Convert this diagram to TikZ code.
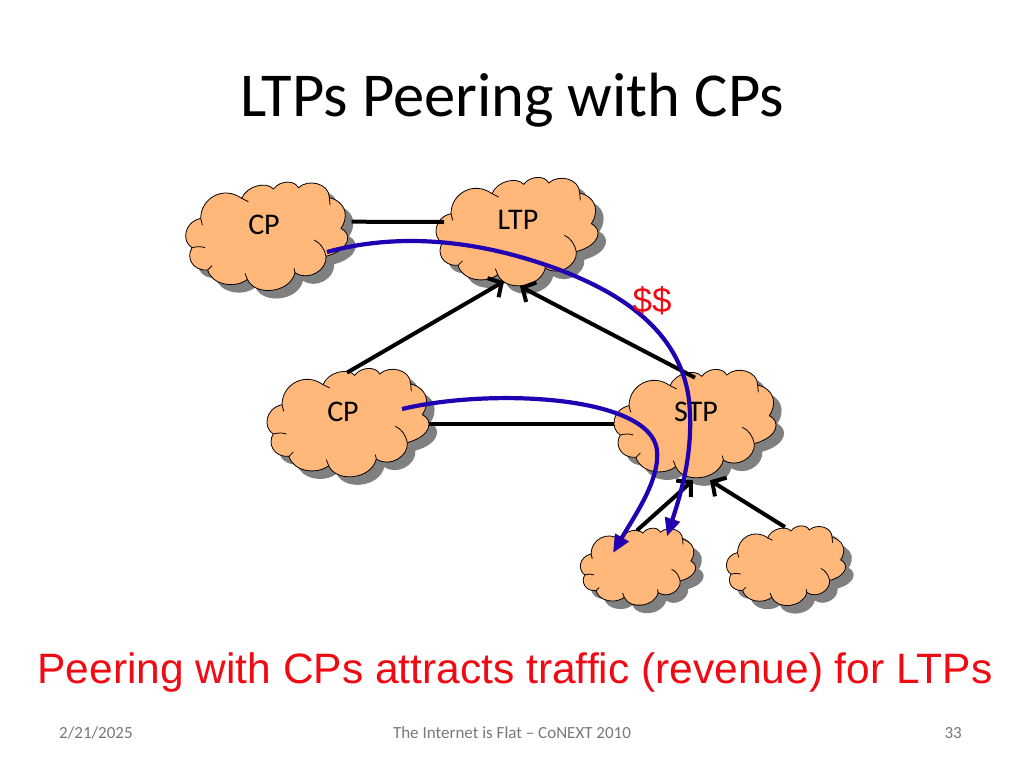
\documentclass[tikz,border=0pt]{standalone}
\usepackage{fontspec}
\setmainfont{Carlito}
\newfontfamily\arialf{Liberation Sans}
\usetikzlibrary{arrows.meta,calc}
\definecolor{cloudfill}{RGB}{255,183,122}
\definecolor{cloudshadow}{RGB}{128,128,128}
\definecolor{pathblue}{RGB}{32,0,176}
\definecolor{redtext}{RGB}{240,10,20}
\definecolor{foot}{RGB}{120,120,120}
\newcommand{\cloudoutline}{(92,160) .. controls (92,100) and (160,60) .. (215,100)
 .. controls (230,62) and (290,48) .. (310,72)
 .. controls (330,45) and (375,45) .. (385,68)
 .. controls (415,40) and (478,55) .. (478,98)
 .. controls (510,105) and (530,130) .. (525,160)
 .. controls (523,172) and (519,182) .. (513,190)
 .. controls (545,205) and (545,252) .. (468,274)
 .. controls (472,315) and (415,350) .. (375,323)
 .. controls (360,385) and (255,395) .. (232,343)
 .. controls (195,372) and (125,360) .. (113,315)
 .. controls (65,318) and (48,275) .. (66,248)
 .. controls (35,230) and (40,172) .. (92,160) -- cycle}
\newcommand{\cloudshape}[4]{%
 \begin{scope}[shift={(#2+8,#3+8)},scale=#4,shift={(-290,-215)}]
  \fill[cloudshadow] \cloudoutline;
 \end{scope}
 \begin{scope}[shift={(#2,#3)},scale=#4,shift={(-290,-215)}]
  \filldraw[cloudedge] \cloudoutline;
  \draw[cloudedge] (66,248) .. controls (80,244) and (95,244) .. (105,248);
  \draw[cloudedge] (92,160) -- (97,180);
  \draw[cloudedge] (432,225) .. controls (450,232) and (464,252) .. (468,274);
  \draw[cloudedge] (375,323) -- (372,310);
  \draw[cloudedge] (113,315) -- (126,302);
  \draw[cloudedge] (215,100) -- (235,110);
  \draw[cloudedge] (478,98) -- (480,120);
  \draw[cloudedge] (232,343) -- (225,325);
 \end{scope}
 \node[cloudbox,minimum width={486pt*#4},minimum height={326pt*#4}] (#1) at (#2,#3) {};}
\tikzset{
 cloudedge/.style={draw=black,fill=cloudfill,line width=0.8pt},
 cloudbox/.style={inner sep=0pt,outer sep=0pt},
 cloudlabel/.style={font=\fontsize{30}{30}\selectfont,text=black,inner sep=0pt},
 linkline/.style={draw=black,line width=4pt},
 custarrow/.style={draw=black,line width=4pt,-{Straight Barb[length=10pt,width=22pt,line width=4pt]}},
 trafficpath/.style={draw=pathblue,line width=4.2pt,-{Triangle[length=18pt,width=15pt]}},
 foottext/.style={font=\fontsize{17}{17}\selectfont,text=foot,inner sep=0pt}
}
\begin{document}
\begin{tikzpicture}[x=1pt,y=-1pt]
\useasboundingbox (0,0) rectangle (1024,768);
\fill[white] (0,0) rectangle (1024,768);
\cloudshape{cpa}{266.7}{236.7}{0.3333}
\cloudshape{ltp}{517}{232}{0.3333}
\cloudshape{cpb}{348}{423}{0.3333}
\cloudshape{stp}{695}{424}{0.3333}
\cloudshape{sa}{638}{567}{0.237}
\cloudshape{sb}{786}{566}{0.245}
\node[cloudlabel] (cpalabel) at (264,225) {CP};
\node[cloudlabel] (ltplabel) at (518,220) {LTP};
\node[cloudlabel] (cpblabel) at (343,412) {CP};
\node[cloudlabel] (stplabel) at (696,412) {STP};
\node[inner sep=0pt,font=\fontsize{62.5}{62.5}\selectfont] (title) at (512,100) {LTPs Peering with CPs};
\draw[linkline] ([shift={(4,-15)}]cpa.east) -- ([shift={(8,-10)}]ltp.west);
\draw[linkline] ([shift={(0,1)}]cpb.east) -- ([shift={(0,0)}]stp.west);
\draw[custarrow] ($(cpb.north)+(-1,4)$) -- ($(ltp.south)+(-13,-5)$);
\draw[custarrow] ($(stp.north)+(0,8)$) -- ($(ltp.south)+(3,0)$);
\draw[custarrow] ($(sa.north)+(-1,2)$) -- ($(stp.south)+(-2,2)$);
\draw[custarrow] ($(sb.north)+(-1,1)$) -- ($(stp.south)+(15,2)$);
\coordinate (pa) at (327,252);
\coordinate (pb) at (402,409);
\coordinate (pamid) at (560,270);
\draw[trafficpath] (pa) .. controls (400,232) and (480,240) .. (pamid) .. controls (620,293) and (680,330) .. (689,400) .. controls (694,450) and (682,490) .. ($(sa.north)+(29,8)$);
\draw[trafficpath] (pb) .. controls (490,388) and (650,395) .. (657,450) .. controls (660,480) and (635,515) .. ($(sa.center)+(-25,-14)$);
\node[inner sep=0pt,text=redtext,font=\arialf\fontsize{35}{35}\selectfont] (money) at (652,301) {\$\$};
\node[inner sep=0pt,text=redtext,font=\arialf\fontsize{42.5}{42.5}\selectfont] (caption) at (515,673) {Peering with CPs attracts traffic (revenue) for LTPs};
\node[foottext,anchor=west] (date) at (59,733) {2/21/2025};
\node[foottext] (conf) at (512,733) {The Internet is Flat – CoNEXT 2010};
\node[foottext,anchor=east] (page) at (962,733) {33};
\end{tikzpicture}
\end{document}
